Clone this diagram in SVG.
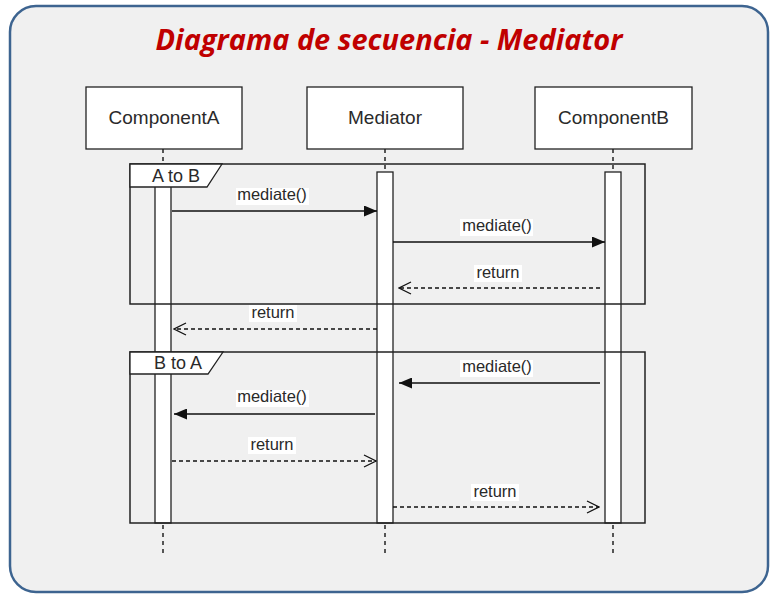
<svg xmlns="http://www.w3.org/2000/svg" width="778" height="602" viewBox="0 0 778 602">
<style>
.title{font-family:"Open Sans","Liberation Sans",sans-serif;font-weight:bold;font-style:italic;font-size:29px;fill:#c00000}
.box{fill:#fff;stroke:#222;stroke-width:1.3}
.boxtxt{font-family:"Liberation Sans",Arial,sans-serif;font-size:19px;fill:#2a2a2a;text-anchor:middle}
.life{stroke:#222;stroke-width:1.5;stroke-dasharray:4,4;fill:none}
.bar{fill:#fff;stroke:#222;stroke-width:1.3}
.frame{fill:none;stroke:#222;stroke-width:1.5}
.tab{fill:#fff;stroke:#222;stroke-width:1.3}
.tabtxt{font-family:"Liberation Sans",Arial,sans-serif;font-size:18px;fill:#2a2a2a;text-anchor:middle}
.msg{stroke:#111;stroke-width:1.5;fill:none}
.ret{stroke:#111;stroke-width:1.5;fill:none;stroke-dasharray:4,3}
.lbl{font-family:"Liberation Sans",Arial,sans-serif;font-size:16.5px;fill:#2a2a2a;text-anchor:middle}
.lblbg{fill:#fff}
</style>
<defs>
<marker id="solid" viewBox="0 0 13 11" refX="13" refY="5.5" markerWidth="13" markerHeight="11" markerUnits="userSpaceOnUse" orient="auto">
<path d="M0,0 L13,5.5 L0,11 Z" fill="#111"/>
</marker>
<marker id="open" viewBox="0 0 14 14" refX="13" refY="7" markerWidth="14" markerHeight="14" markerUnits="userSpaceOnUse" orient="auto">
<path d="M1,1 L13,7 L1,13" fill="none" stroke="#111" stroke-width="1.3"/>
</marker>
</defs>
<rect x="10" y="6" width="758" height="586" rx="26" ry="26" fill="#f0f0f0" stroke="#3d6490" stroke-width="2.5"/>
<text class="title" x="389" y="50" text-anchor="middle" textLength="467" lengthAdjust="spacingAndGlyphs">Diagrama de secuencia - Mediator</text>

<g id="lifelines">
<line class="life" x1="163" y1="149" x2="163" y2="164"/>
<line class="life" x1="385" y1="149" x2="385" y2="172"/>
<line class="life" x1="613" y1="149" x2="613" y2="172"/>
<line class="life" x1="163" y1="525" x2="163" y2="555"/>
<line class="life" x1="385" y1="525" x2="385" y2="555"/>
<line class="life" x1="613" y1="525" x2="613" y2="555"/>
</g>

<g id="ComponentA">
<rect class="box" x="86" y="87" width="156" height="62"/>
<text class="boxtxt" x="164" y="124">ComponentA</text>
<rect class="bar" x="155" y="176" width="16" height="347"/>
</g>
<g id="Mediator">
<rect class="box" x="307" y="87" width="156" height="62"/>
<text class="boxtxt" x="385" y="124">Mediator</text>
<rect class="bar" x="377" y="172" width="16" height="351"/>
</g>
<g id="ComponentB">
<rect class="box" x="535" y="87" width="157" height="62"/>
<text class="boxtxt" x="613.5" y="124">ComponentB</text>
<rect class="bar" x="605" y="172" width="16" height="351"/>
</g>

<g id="frameAtoB">
<rect class="frame" x="130" y="164" width="515" height="140"/>
<path class="tab" d="M130,164 L222,164 L207,187 L130,187 Z"/>
<text class="tabtxt" x="176" y="182">A to B</text>
</g>
<g id="frameBtoA">
<rect class="frame" x="130" y="352" width="515" height="171"/>
<path class="tab" d="M130,352 L223,352 L208,374 L130,374 Z"/>
<text class="tabtxt" x="178" y="369">B to A</text>
</g>

<g id="connectors">
<line class="msg" x1="172" y1="211" x2="377" y2="211" marker-end="url(#solid)"/>
<line class="msg" x1="393" y1="242" x2="605" y2="242" marker-end="url(#solid)"/>
<line class="ret" x1="600" y1="288" x2="399" y2="288" marker-end="url(#open)"/>
<line class="ret" x1="377" y1="329" x2="174" y2="329" marker-end="url(#open)"/>
<line class="msg" x1="600" y1="383" x2="399" y2="383" marker-end="url(#solid)"/>
<line class="msg" x1="375" y1="414" x2="174" y2="414" marker-end="url(#solid)"/>
<line class="ret" x1="172" y1="461" x2="376" y2="461" marker-end="url(#open)"/>
<line class="ret" x1="393" y1="507" x2="599" y2="507" marker-end="url(#open)"/>
</g>

<g id="labels">
<rect class="lblbg" x="236" y="188" width="73" height="17"/>
<text class="lbl" x="272" y="200">mediate()</text>
<rect class="lblbg" x="460" y="219" width="73" height="17"/>
<text class="lbl" x="497" y="231">mediate()</text>
<rect class="lblbg" x="474" y="265" width="48" height="17"/>
<text class="lbl" x="498" y="278">return</text>
<rect class="lblbg" x="249" y="305" width="48" height="17"/>
<text class="lbl" x="273" y="318">return</text>
<rect class="lblbg" x="460" y="360" width="73" height="17"/>
<text class="lbl" x="497" y="372">mediate()</text>
<rect class="lblbg" x="236" y="390" width="73" height="17"/>
<text class="lbl" x="272" y="402">mediate()</text>
<rect class="lblbg" x="248" y="437" width="48" height="17"/>
<text class="lbl" x="272" y="450">return</text>
<rect class="lblbg" x="471" y="484" width="48" height="17"/>
<text class="lbl" x="495" y="497">return</text>
</g>
</svg>
